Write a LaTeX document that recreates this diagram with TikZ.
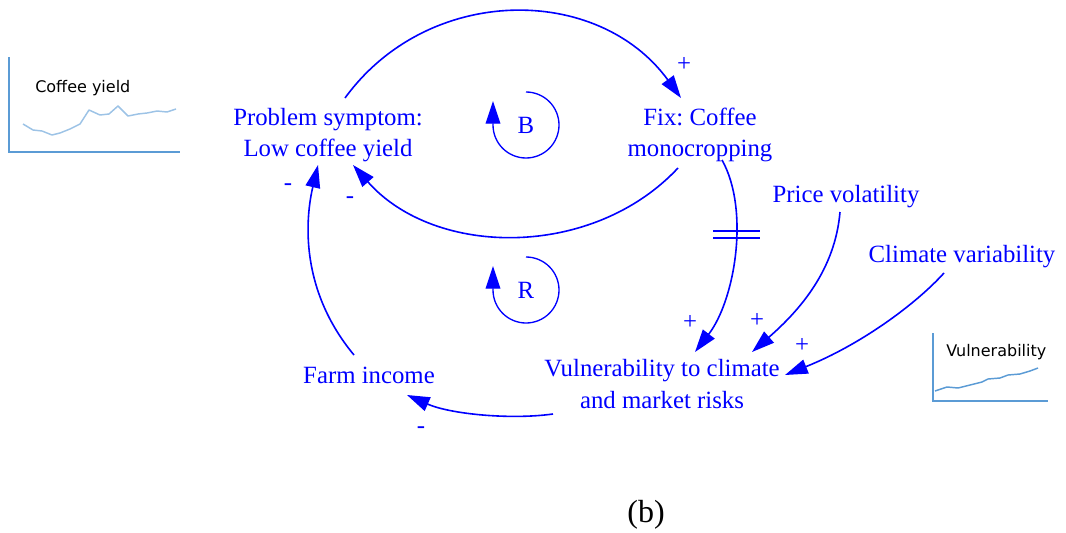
\documentclass[tikz,border=0pt]{standalone}
\usepackage{fontspec}
\setmainfont{Liberation Serif}
\newfontfamily\sparkfont{DejaVu Sans}
\usetikzlibrary{arrows.meta,calc}
\definecolor{cldblue}{RGB}{0,0,255}
\definecolor{sparkaxis}{RGB}{91,155,213}
\definecolor{sparkpale}{RGB}{157,195,230}
\frenchspacing

\tikzset{
  var/.style={text=cldblue, font=\fontsize{18.6}{23.8}\selectfont, align=center, inner sep=0pt},
  pol/.style={text=cldblue, font=\fontsize{18.6}{23.8}\selectfont, inner sep=0pt},
  link/.style={draw=cldblue, line width=1.2pt, -{Triangle[length=17pt,width=11pt]}},
  looparrow/.style={draw=cldblue, line width=1.0pt, -{Triangle[length=17pt,width=11pt]}},
  delaymark/.style={draw=cldblue, line width=1.5pt},
  sparkframe/.style={draw=sparkaxis, line width=1.6pt},
  sparktrend/.style={line width=1.1pt, line join=round},
  sparklabel/.style={font=\sparkfont\fontsize{12}{14}\selectfont, anchor=west, inner sep=0pt}
}

\begin{document}
\begin{tikzpicture}[x=0.75pt,y=-0.75pt]
\useasboundingbox (0,0) rectangle (1066,532);

% variables of the causal loop diagram
\node[var] (prob)  at (328,135) {Problem symptom:\\Low coffee yield};
\node[var] (fix)   at (700,135) {Fix: Coffee\\monocropping};
\node[var] (price) at (846,197) {Price volatility};
\node[var] (clim)  at (962,257) {Climate variability};
\node[var] (vuln)  at (662,384) {Vulnerability to climate\\and market risks};
\node[var] (farm)  at (369,375) {Farm income};

% loop identifiers
\node[var] (bl) at (526,125) {B};
\node[var] (rl) at (526,290) {R};
\draw[looparrow] ($(bl)+(0,-33)$) arc[start angle=-90,end angle=180,radius=33] -- ++(0,-24);
\draw[looparrow] ($(rl)+(0,-33)$) arc[start angle=-90,end angle=180,radius=33] -- ++(0,-24);

% causal links
\draw[link] ($(prob)+(17,-37)$) .. controls (428,-16) and (598,-16) .. ($(fix)+(-19,-37)$);
\draw[link] ($(fix)+(-22,33)$) .. controls (593,259) and (435,258) .. ($(prob)+(25,30)$);
\draw[link] ($(farm)+(-15,-20)$) .. controls (300,290) and (305,220) .. ($(prob)+(-10,30)$);
\draw[link] ($(vuln)+(-109,30)$) .. controls (510,420) and (450,414) .. ($(farm)+(38,20)$);
\draw[link] ($(fix)+(22,25)$) .. controls (750,210) and (735,300) .. ($(vuln)+(33,-32)$);
\draw[link] ($(price)+(-6,15)$) .. controls (835,270) and (800,310) .. ($(vuln)+(90,-32)$);
\draw[link] ($(clim)+(-18,16)$) .. controls (915,305) and (860,345) .. ($(vuln)+(123,-9)$);

% delay on the fix link
\draw[delaymark] (713,231) -- (760,231);
\draw[delaymark] (713,238) -- (760,238);

% link polarities
\node[pol] (p1) at (684,64)  {+};
\node[pol] (p2) at (690,322) {+};
\node[pol] (p3) at (757,320) {+};
\node[pol] (p4) at (802,345) {+};
\node[pol] (m1) at (288,187) {-};
\node[pol] (m2) at (350,200) {-};
\node[pol] (m3) at (421,430) {-};

% behaviour-over-time sketch: coffee yield
\draw[sparkframe] (9,57) -- (9,152) -- (180,152);
\node[sparklabel] (cylab) at (35,88) {Coffee yield};
\draw[sparktrend, draw=sparkpale] (23,124) -- (33,130) -- (42,131) -- (52,135) -- (60,133)
  -- (70,129) -- (80,124) -- (89,110) -- (100,115) -- (109,114) -- (118,106)
  -- (128,116) -- (138,114) -- (147,113) -- (157,111) -- (167,112) -- (176,109);

% behaviour-over-time sketch: vulnerability
\draw[sparkframe] (933,333) -- (933,401) -- (1048,401);
\node[sparklabel] (vlab) at (946,352) {Vulnerability};
\draw[sparktrend, draw=sparkaxis] (935,391) -- (947,387) -- (958,388) -- (970,385)
  -- (982,382) -- (988,379) -- (1000,378) -- (1008,375) -- (1020,374)
  -- (1030,371) -- (1038,368);

% panel caption
\node[var, font=\fontsize{24}{28}\selectfont, text=black] (cap) at (646,515) {(b)};
\end{tikzpicture}
\end{document}
